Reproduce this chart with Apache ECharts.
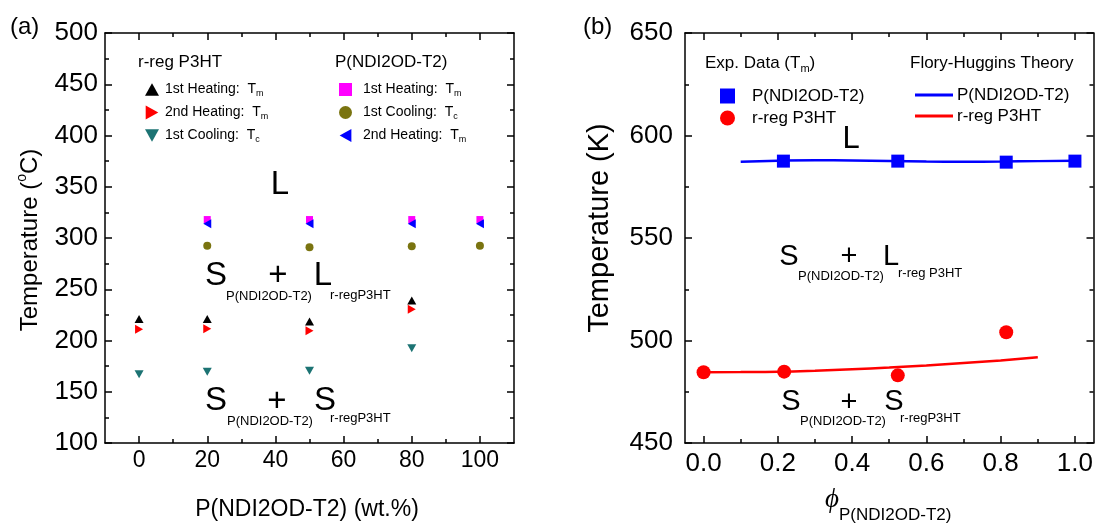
<!DOCTYPE html>
<html><head><meta charset="utf-8">
<script src="https://cdn.jsdelivr.net/npm/echarts@6.0.0/dist/echarts.min.js"></script>
<style>html,body{margin:0;padding:0;background:#fff}#c{width:1096px;height:525px}</style>
</head><body><div id="c"></div>
<script>
// ---------- data: panel (a) ----------
const aXTicks = [0, 20, 40, 60, 80, 100];
const aXMinor = [10, 30, 50, 70, 90];
const rreg1stHeatTm = [[0, 221], [20, 221], [50, 218.5], [80, 239]];
const rreg2ndHeatTm = [[0, 211], [20, 211.5], [50, 209.5], [80, 230.5]];
const rreg1stCoolTc = [[0, 167], [20, 169.5], [50, 170.5], [80, 192.5]];
const pndi1stHeatTm = [[20, 318], [50, 318], [80, 318], [100, 318]];
const pndi1stCoolTc = [[20, 292.5], [50, 291], [80, 292], [100, 292.5]];
const pndi2ndHeatTm = [[20, 314], [50, 314], [80, 314], [100, 314]];
// ---------- data: panel (b) ----------
const bXTicks = [0, 0.2, 0.4, 0.6, 0.8, 1.0];
const bXMinor = [0.1, 0.3, 0.5, 0.7, 0.9];
const expPndi = [[0.215, 587.5], [0.523, 587.5], [0.815, 587], [1.0, 587.5]];
const expRreg = [[0, 484.5], [0.217, 484.8], [0.523, 483], [0.815, 504]];
const fhPndi = [[0.1, 587.2], [0.2, 587.7], [0.3, 587.9], [0.4, 587.8], [0.5, 587.6], [0.6, 587.3], [0.7, 587.2], [0.8, 587.3], [0.9, 587.5], [1.0, 587.7]];
const fhRreg = [[0, 484.5], [0.1, 484.6], [0.2, 484.8], [0.3, 485.3], [0.4, 486], [0.5, 486.8], [0.6, 487.8], [0.7, 489], [0.8, 490.3], [0.9, 491.8]];

const FONT = 'Liberation Sans';
const TICK_COLOR = '#000';
const TRI_UP = 'path://M5,0 L10,9 L0,9 Z';
const TRI_DOWN = 'path://M0,0 L10,0 L5,9 Z';
const TRI_RIGHT = 'path://M0,0 L9,5 L0,10 Z';
const TRI_LEFT = 'path://M9,0 L0,5 L9,10 Z';

const chart = echarts.init(document.getElementById('c'));

function axLine() { return {show: true, onZero: false, lineStyle: {color: '#000', width: 1.5}}; }
function tickStyle(len, vals) {
  const t = {show: true, inside: true, length: len, lineStyle: {color: TICK_COLOR, width: 1.5}};
  if (vals) t.customValues = vals;
  return t;
}
function xAxes(grid, min, max, majors, minors, fs, margin, lblFmt) {
  return [
    {gridIndex: grid, type: 'value', position: 'bottom', min, max, axisLine: axLine(),
      axisTick: tickStyle(7, majors),
      axisLabel: {show: true, customValues: majors, fontSize: fs, fontFamily: FONT, color: '#000', margin, formatter: lblFmt},
      splitLine: {show: false}},
    {gridIndex: grid, type: 'value', position: 'bottom', min, max, axisLine: {show: false},
      axisTick: tickStyle(4, minors), axisLabel: {show: false}, splitLine: {show: false}},
    {gridIndex: grid, type: 'value', position: 'top', min, max, axisLine: axLine(),
      axisTick: tickStyle(7, majors), axisLabel: {show: false}, splitLine: {show: false}},
    {gridIndex: grid, type: 'value', position: 'top', min, max, axisLine: {show: false},
      axisTick: tickStyle(4, minors), axisLabel: {show: false}, splitLine: {show: false}}
  ];
}
function yAxes(grid, min, max, fs, margin) {
  const minor = () => ({show: true, splitNumber: 2, length: 4, lineStyle: {color: TICK_COLOR, width: 1.5}});
  return [
    {gridIndex: grid, type: 'value', position: 'left', min, max, interval: 50, axisLine: axLine(),
      axisTick: tickStyle(7), minorTick: minor(),
      axisLabel: {fontSize: fs, fontFamily: FONT, color: '#000', margin}, splitLine: {show: false}},
    {gridIndex: grid, type: 'value', position: 'right', min, max, interval: 50, axisLine: axLine(),
      axisTick: tickStyle(7), minorTick: minor(), axisLabel: {show: false}, splitLine: {show: false}}
  ];
}

function T(x, y, text, size, o) {
  o = o || {};
  const fam = o.family || FONT;
  const st = {text, fill: '#000', fontSize: size, fontFamily: fam, fontStyle: o.italic ? 'italic' : 'normal',
    align: o.align || 'left', textAlign: o.align || 'left', verticalAlign: 'middle', textVerticalAlign: 'middle'};
  if (o.rich) st.rich = o.rich;
  return {type: 'text', x, y, rotation: o.rot || 0, silent: true, z: 100, style: st};
}

const subRich = {
  t: {fontSize: 14, fontFamily: FONT, lineHeight: 16, verticalAlign: 'middle', color: '#000'},
  s: {fontSize: 9, fontFamily: FONT, lineHeight: 10, padding: [9, 0, 0, 0], verticalAlign: 'middle', color: '#000'}
};
const legLabels = {
  'r-reg 1st Heating': '{t|1st Heating:  T}{s|m}',
  'r-reg 2nd Heating': '{t|2nd Heating:  T}{s|m}',
  'r-reg 1st Cooling': '{t|1st Cooling:  T}{s|c}',
  'PNDI 1st Heating': '{t|1st Heating:  T}{s|m}',
  'PNDI 1st Cooling': '{t|1st Cooling:  T}{s|c}',
  'PNDI 2nd Heating': '{t|2nd Heating:  T}{s|m}',
  'Exp P(NDI2OD-T2)': 'P(NDI2OD-T2)',
  'Exp r-reg P3HT': 'r-reg P3HT',
  'FH P(NDI2OD-T2)': 'P(NDI2OD-T2)',
  'FH r-reg P3HT': 'r-reg P3HT'
};
const fmt = n => legLabels[n];

const graphics = [
  T(10, 27, '(a)', 24),
  T(583, 27, '(b)', 24),
  T(138, 62, 'r-reg P3HT', 17),
  T(335, 62, 'P(NDI2OD-T2)', 17),
  T(280, 185, 'L', 33, {align: 'center'}),
  T(216, 276, 'S', 33, {align: 'center'}),
  T(278, 276, '+', 33, {align: 'center'}),
  T(323, 276, 'L', 33, {align: 'center'}),
  T(226, 296, 'P(NDI2OD-T2)', 13),
  T(330, 295, 'r-regP3HT', 13),
  T(216, 401, 'S', 33, {align: 'center'}),
  T(277, 402, '+', 33, {align: 'center'}),
  T(325, 401, 'S', 33, {align: 'center'}),
  T(227, 421, 'P(NDI2OD-T2)', 13),
  T(330, 418, 'r-regP3HT', 13),
  T(307, 510, 'P(NDI2OD-T2) (wt.%)', 23, {align: 'center'}),
  T(30, 240, '{m|Temperature (}{u|o}{m|C)}', 24, {align: 'center', rot: Math.PI / 2, rich: {
    m: {fontSize: 24, fontFamily: FONT, verticalAlign: 'middle', color: '#000'},
    u: {fontSize: 14, fontFamily: FONT, verticalAlign: 'middle', padding: [0, 0, 16, 0], color: '#000'}}}),
  T(705, 63, '{m|Exp. Data (T}{s|m}{m|)}', 17, {rich: {
    m: {fontSize: 17, fontFamily: FONT, lineHeight: 19, verticalAlign: 'middle', color: '#000'},
    s: {fontSize: 11, fontFamily: FONT, lineHeight: 12, padding: [11, 0, 0, 0], verticalAlign: 'middle', color: '#000'}}}),
  T(910, 63, 'Flory-Huggins Theory', 17),
  T(851, 139, 'L', 31, {align: 'center'}),
  T(789, 257, 'S', 29, {align: 'center'}),
  T(849, 257, '+', 29, {align: 'center'}),
  T(891, 257, 'L', 29, {align: 'center'}),
  T(798, 276, 'P(NDI2OD-T2)', 13),
  T(898, 273, 'r-reg P3HT', 13),
  T(791, 402, 'S', 29, {align: 'center'}),
  T(849, 403, '+', 29, {align: 'center'}),
  T(894, 402, 'S', 29, {align: 'center'}),
  T(800, 421, 'P(NDI2OD-T2)', 13),
  T(900, 418, 'r-regP3HT', 13),
  T(600, 228, 'Temperature (K)', 29, {align: 'center', rot: Math.PI / 2}),
  T(832, 500, '\u03D5', 27, {align: 'center', italic: true, family: 'Liberation Serif'}),
  T(839, 515, 'P(NDI2OD-T2)', 17)
];

const option = {
  animation: false,
  backgroundColor: '#fff',
  grid: [
    {left: 105, top: 33, width: 409, height: 410},
    {left: 685, top: 33, width: 410, height: 410}
  ],
  xAxis: [].concat(
    xAxes(0, -10, 110, aXTicks, aXMinor, 23, 6, v => String(v)),
    xAxes(1, -0.05, 1.05, bXTicks, bXMinor, 26, 8, v => Number(v).toFixed(1))
  ),
  yAxis: [].concat(
    yAxes(0, 100, 500, 26, 7),
    yAxes(1, 450, 650, 26, 12)
  ),
  legend: [
    {data: ['r-reg 1st Heating', 'r-reg 2nd Heating', 'r-reg 1st Cooling'], orient: 'vertical',
      left: 140, top: 75.5, itemWidth: 14, itemHeight: 14, itemGap: 5, selectedMode: false,
      formatter: fmt, textStyle: {padding: [0, 0, 0, 1], rich: subRich}},
    {data: ['PNDI 1st Heating', 'PNDI 1st Cooling', 'PNDI 2nd Heating'], orient: 'vertical',
      left: 334, top: 75.5, itemWidth: 13, itemHeight: 13, itemGap: 5, selectedMode: false,
      formatter: fmt, textStyle: {padding: [0, 0, 0, 6], rich: subRich}},
    {data: ['Exp P(NDI2OD-T2)', 'Exp r-reg P3HT'], orient: 'vertical',
      left: 715, top: 82, itemWidth: 15, itemHeight: 15, itemGap: 4, selectedMode: false,
      formatter: fmt, textStyle: {fontSize: 17, fontFamily: FONT, color: '#000', lineHeight: 18, padding: [0, 0, 0, 12]}},
    {data: ['FH P(NDI2OD-T2)', 'FH r-reg P3HT'], orient: 'vertical', icon: 'rect',
      left: 910, top: 81, itemWidth: 38, itemHeight: 3, itemGap: 3, selectedMode: false,
      formatter: fmt, textStyle: {fontSize: 17, fontFamily: FONT, color: '#000', lineHeight: 18, padding: [0, 0, 0, -1]}}
  ],
  series: [
    {name: 'r-reg 1st Heating', type: 'scatter', xAxisIndex: 0, yAxisIndex: 0, symbol: TRI_UP, symbolSize: [9, 8], itemStyle: {color: '#000', opacity: 1}, data: rreg1stHeatTm},
    {name: 'r-reg 2nd Heating', type: 'scatter', xAxisIndex: 0, yAxisIndex: 0, symbol: TRI_RIGHT, symbolSize: [8, 9], itemStyle: {color: '#ff0000', opacity: 1}, data: rreg2ndHeatTm},
    {name: 'r-reg 1st Cooling', type: 'scatter', xAxisIndex: 0, yAxisIndex: 0, symbol: TRI_DOWN, symbolSize: [9, 8], itemStyle: {color: '#1c7373', opacity: 1}, data: rreg1stCoolTc},
    {name: 'PNDI 1st Heating', type: 'scatter', xAxisIndex: 0, yAxisIndex: 0, symbol: 'rect', symbolSize: 7, itemStyle: {color: '#ff00ff', opacity: 1}, data: pndi1stHeatTm},
    {name: 'PNDI 1st Cooling', type: 'scatter', xAxisIndex: 0, yAxisIndex: 0, symbol: 'circle', symbolSize: 8, itemStyle: {color: '#7a7410', opacity: 1}, data: pndi1stCoolTc},
    {name: 'PNDI 2nd Heating', type: 'scatter', xAxisIndex: 0, yAxisIndex: 0, symbol: TRI_LEFT, symbolSize: [8, 9], itemStyle: {color: '#0000ff', opacity: 1}, data: pndi2ndHeatTm},
    {name: 'FH P(NDI2OD-T2)', type: 'line', xAxisIndex: 4, yAxisIndex: 2, smooth: true, symbol: 'none', color: '#0000ff', itemStyle: {color: '#0000ff'}, lineStyle: {color: '#0000ff', width: 2.5}, data: fhPndi},
    {name: 'FH r-reg P3HT', type: 'line', xAxisIndex: 4, yAxisIndex: 2, smooth: true, symbol: 'none', color: '#ff0000', itemStyle: {color: '#ff0000'}, lineStyle: {color: '#ff0000', width: 2.5}, data: fhRreg},
    {name: 'Exp P(NDI2OD-T2)', type: 'scatter', xAxisIndex: 4, yAxisIndex: 2, symbol: 'rect', symbolSize: 13, itemStyle: {color: '#0000ff', opacity: 1}, data: expPndi, z: 5},
    {name: 'Exp r-reg P3HT', type: 'scatter', xAxisIndex: 4, yAxisIndex: 2, symbol: 'circle', symbolSize: 14, itemStyle: {color: '#ff0000', opacity: 1}, data: expRreg, z: 5}
  ],
  graphic: graphics
};
chart.setOption(option);
</script>
</body></html>
